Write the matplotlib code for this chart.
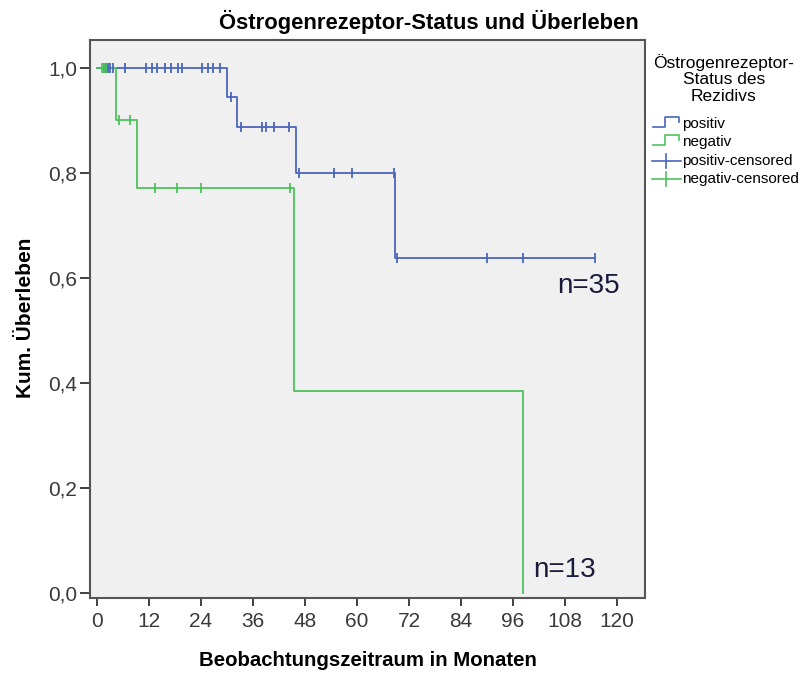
"""
Kaplan-Meier plot: Östrogenrezeptor-Status und Überleben (SPSS look).
"""

import numpy as np
import matplotlib
matplotlib.use("Agg")
import matplotlib.pyplot as plt
from matplotlib.lines import Line2D

# step curves (event times in months, survival after each step)
pos_times = [0, 30.0, 32.3, 45.9, 68.9, 114.9]
pos_surv = [1.0, 0.944, 0.888, 0.799, 0.639, 0.639]
neg_times = [0, 4.5, 9.4, 45.5, 98.2]
neg_surv = [1.0, 0.900, 0.771, 0.386, 0.0]

# censored observations
pos_censored = [1.8, 2.2, 2.6, 3.1, 3.7, 6.6, 11.3, 12.7, 13.9, 15.8, 17.1, 18.8,
                19.6, 24.2, 25.8, 26.9, 28.4, 30.9, 33.4, 38.2, 39.0, 40.9,
                44.4, 46.7, 54.8, 58.8, 68.6, 69.2, 89.9, 98.3, 114.9]
neg_censored = [1.2, 1.7, 2.3, 5.2, 7.7, 13.5, 18.5, 24.0, 44.7]

x_ticks = [0, 12, 24, 36, 48, 60, 72, 84, 96, 108, 120]
y_ticks = [0.0, 0.2, 0.4, 0.6, 0.8, 1.0]

BLUE = '#4A66BD'
GREEN = '#4DC25D'
FONT = 'Liberation Sans'
W, H = 803, 673


def surv_at(times, surv, t):
    """Value of the step curve at time t (right-continuous)."""
    i = np.searchsorted(times, t, side='right') - 1
    return np.asarray(surv)[i]


fig = plt.figure(figsize=(W / 100, H / 100), dpi=100)
fig.patch.set_facecolor('white')

# plot frame in pixel terms: left 90, right 645, top 40, bottom 598
ax = fig.add_axes([90 / W, 1 - 598 / H, 555 / W, 558 / H])
ax.set_facecolor('#F0F0F0')

ax.step(pos_times, pos_surv, where='post', color=BLUE, lw=1.3)
ax.step(neg_times, neg_surv, where='post', color=GREEN, lw=1.3)
ax.plot(pos_censored, surv_at(pos_times, pos_surv, pos_censored), ls='none',
        marker='|', ms=7, mew=1.3, color=BLUE)
ax.plot(neg_censored, surv_at(neg_times, neg_surv, neg_censored), ls='none',
        marker='|', ms=7, mew=1.3, color=GREEN)

ax.set_xlim(-1.5, 126.4)
ax.set_ylim(-0.0086, 1.0527)
ax.set_xticks(x_ticks)
ax.set_xticklabels([str(v) for v in x_ticks])
ax.set_yticks(y_ticks)
ax.set_yticklabels([f'{v:.1f}'.replace('.', ',') for v in y_ticks])

for s in ax.spines.values():
    s.set_color('#555555')
    s.set_linewidth(1.5)
ax.tick_params(axis='both', direction='out', color='#333333', width=1.3,
               labelcolor='#3a3a3a', labelsize=15)
ax.tick_params(axis='y', length=7, pad=2)
ax.tick_params(axis='x', length=6, pad=4)
for lab in ax.get_xticklabels() + ax.get_yticklabels():
    lab.set_fontfamily(FONT)

ax.text(106.1, 0.585, 'n=35', fontsize=20, family=FONT, color='#1a1a3a',
        va='center', ha='left')
ax.text(100.6, 0.045, 'n=13', fontsize=20, family=FONT, color='#1a1a3a',
        va='center', ha='left')

# overlay in pixel coordinates for title, labels and legend
ov = fig.add_axes([0, 0, 1, 1], facecolor='none')
ov.set_xlim(0, W)
ov.set_ylim(H, 0)
ov.axis('off')

ov.text(429, 22, 'Östrogenrezeptor-Status und Überleben', fontsize=15.8,
        fontweight='bold', family=FONT, ha='center', va='center')
ov.text(368, 661, 'Beobachtungszeitraum in Monaten', fontsize=14.7,
        fontweight='bold', family=FONT, ha='center', va='center')
ov.text(26, 318, 'Kum. Überleben', fontsize=15, fontweight='bold', family=FONT,
        ha='center', va='center', rotation=90)

# legend
ov.text(724, 79, 'Östrogenrezeptor-\nStatus des\nRezidivs', fontsize=12.5,
        family=FONT, ha='center', va='center', linespacing=1.15)
entries = [('positiv', BLUE, 'step', 124), ('negativ', GREEN, 'step', 142),
           ('positiv-censored', BLUE, 'cens', 161),
           ('negativ-censored', GREEN, 'cens', 179)]
for label, col, kind, y in entries:
    if kind == 'step':
        ov.add_line(Line2D([653, 665, 665, 679, 679],
                           [y + 3, y + 3, y - 7, y - 7, y - 2],
                           color=col, lw=1.2))
    else:
        ov.add_line(Line2D([652, 681], [y, y], color=col, lw=1.2))
        ov.add_line(Line2D([666, 666], [y - 7, y + 7], color=col, lw=1.2))
    ov.text(682, y, label, fontsize=11, family=FONT, ha='left', va='center')

fig.savefig('out.png', dpi=100, facecolor='white')
